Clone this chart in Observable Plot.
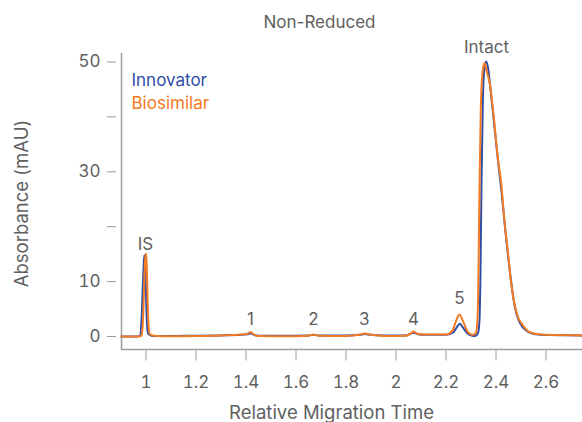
<!DOCTYPE html>
<html>
<head>
<meta charset="utf-8">
<script src="https://cdn.jsdelivr.net/npm/d3@7"></script>
<script src="https://cdn.jsdelivr.net/npm/@observablehq/plot@0.6"></script>
<style>
  html, body { margin: 0; padding: 0; background: #fff; }
  #chart { width: 582px; height: 422px; }
</style>
</head>
<body>
<div id="chart"></div>
<script>
// ---- Data ----
const innovatorX = [0.902, 0.95, 0.975, 0.982, 0.988, 0.992, 0.994, 0.997, 1.001, 1.005, 1.009, 1.015, 1.03, 1.1, 1.2, 1.3, 1.38, 1.405, 1.418, 1.43, 1.45, 1.55, 1.65, 1.67, 1.69, 1.8, 1.855, 1.875, 1.9, 1.95, 2.04, 2.06, 2.07, 2.085, 2.11, 2.2, 2.23, 2.245, 2.256, 2.268, 2.285, 2.305, 2.318, 2.328, 2.334, 2.338, 2.342, 2.347, 2.353, 2.361, 2.368, 2.377, 2.392, 2.408, 2.423, 2.438, 2.45, 2.462, 2.475, 2.49, 2.505, 2.53, 2.56, 2.6, 2.746];
const innovatorY = [0.0, 0.0, 0.1, 3, 10, 14, 14.8, 13, 6, 1.5, 0.5, 0.3, 0.1, 0.1, 0.15, 0.2, 0.3, 0.4, 0.6, 0.3, 0.15, 0.15, 0.2, 0.3, 0.2, 0.2, 0.3, 0.45, 0.3, 0.2, 0.2, 0.55, 0.7, 0.45, 0.3, 0.3, 0.8, 1.8, 2.3, 1.6, 0.6, 0.15, 0.1, 0.6, 3, 12, 28, 42, 48.5, 50.1, 49, 45.5, 39, 32, 26, 19, 14, 9.5, 5.5, 3, 1.8, 0.8, 0.4, 0.25, 0.2];

const biosimilarX = [0.902, 0.95, 0.982, 0.988, 0.993, 0.997, 1.0, 1.003, 1.007, 1.011, 1.016, 1.03, 1.1, 1.2, 1.3, 1.38, 1.405, 1.418, 1.432, 1.45, 1.55, 1.65, 1.67, 1.69, 1.8, 1.855, 1.875, 1.9, 1.95, 2.04, 2.06, 2.07, 2.085, 2.11, 2.2, 2.225, 2.24, 2.254, 2.267, 2.285, 2.3, 2.309, 2.32, 2.326, 2.33, 2.334, 2.339, 2.346, 2.354, 2.362, 2.375, 2.391, 2.406, 2.421, 2.436, 2.447, 2.46, 2.471, 2.488, 2.505, 2.53, 2.558, 2.6, 2.746];
const biosimilarY = [0.0, 0.0, 0.1, 3, 10, 14.2, 15.1, 13, 6, 1.5, 0.4, 0.15, 0.05, 0.1, 0.2, 0.35, 0.5, 0.8, 0.35, 0.1, 0.05, 0.15, 0.35, 0.15, 0.1, 0.3, 0.55, 0.3, 0.1, 0.15, 0.6, 0.9, 0.5, 0.35, 0.35, 1.0, 2.8, 4.0, 2.9, 1.0, 0.4, 0.3, 0.7, 3, 12, 27, 41, 48, 49.8, 48.5, 46, 40, 33, 27.8, 20, 15.7, 10, 6.6, 3.5, 2.2, 0.9, 0.5, 0.3, 0.2];

const seriesNames = ["Innovator", "Biosimilar"];
const seriesColors = ["#2e4ea6", "#f57a22"];

const peakLabels = ["IS", "1", "2", "3", "4", "5", "Intact"];
const peakLabelX = [0.998, 1.418, 1.67, 1.873, 2.07, 2.254, 2.362];
const peakLabelY = [16.75, 3.1, 3.1, 3.1, 3.1, 6.9, 52.6];

const xTicks = [1, 1.2, 1.4, 1.6, 1.8, 2, 2.2, 2.4, 2.6];
const xTickLabels = ["1", "1.2", "1.4", "1.6", "1.8", "2", "2.2", "2.4", "2.6"];
const yTicks = [0, 10, 20, 30, 40, 50];
const yTickLabels = ["0", "10", "", "30", "", "50"];

const xDomain = [0.902, 2.746];
const yDomain = [-2.37, 51.55];

const titleText = "Non-Reduced";
const xLabel = "Relative Migration Time";
const yLabel = "Absorbance (mAU)";

// ---- Build tables ----
const innovator = innovatorX.map((x, i) => ({x, y: innovatorY[i]}));
const biosimilar = biosimilarX.map((x, i) => ({x, y: biosimilarY[i]}));
const peaks = peakLabels.map((t, i) => ({t, x: peakLabelX[i], y: peakLabelY[i]}));
const xFmt = new Map(xTicks.map((v, i) => [v, xTickLabels[i]]));
const yFmt = new Map(yTicks.map((v, i) => [v, yTickLabels[i]]));

const textColor = "#606060";
const axisColor = "#9a9a9a";

const chart = Plot.plot({
  width: 582,
  height: 422,
  marginLeft: 121,
  marginRight: 0,
  marginTop: 53,
  marginBottom: 73,
  x: {domain: xDomain},
  y: {domain: yDomain},
  style: {fontFamily: "Inter, 'Noto Sans', sans-serif", fontSize: "17px", color: textColor, background: "#fff"},
  marks: [
    Plot.axisX({ticks: xTicks, tickFormat: d => xFmt.get(d), tickSize: 10, tickPadding: 15, dy: 1.5, stroke: axisColor, fill: textColor, label: null}),
    Plot.axisY({ticks: yTicks, tickFormat: d => yFmt.get(d), tickSize: 9, tickPadding: 7, dx: -5, stroke: axisColor, fill: textColor, label: null}),
    Plot.ruleX([xDomain[0]], {stroke: axisColor, strokeWidth: 1.5}),
    Plot.ruleY([yDomain[0]], {stroke: axisColor, strokeWidth: 1.5}),
    Plot.line(innovator, {x: "x", y: "y", stroke: seriesColors[0], strokeWidth: 2, curve: "monotone-x"}),
    Plot.line(biosimilar, {x: "x", y: "y", stroke: seriesColors[1], strokeWidth: 2, curve: "monotone-x"}),
    Plot.text(peaks, {x: "x", y: "y", text: "t", fill: textColor, lineAnchor: "middle", textAnchor: "middle"}),
    Plot.text([seriesNames[0]], {frameAnchor: "top-left", dx: 10, dy: 27, fill: seriesColors[0], textAnchor: "start", lineAnchor: "middle"}),
    Plot.text([seriesNames[1]], {frameAnchor: "top-left", dx: 10, dy: 49.7, fill: seriesColors[1], textAnchor: "start", lineAnchor: "middle"}),
    Plot.text([titleText], {frameAnchor: "top", dx: -32.5, dy: -31, fill: textColor, textAnchor: "middle", lineAnchor: "middle"}),
    Plot.text([xLabel], {frameAnchor: "bottom", dx: -20.5, dy: 64, fill: textColor, fontSize: 18.5, textAnchor: "middle", lineAnchor: "middle"}),
    Plot.text([yLabel], {frameAnchor: "left", dx: -99, dy: 2, rotate: -90, fill: textColor, fontSize: 18.5, textAnchor: "middle", lineAnchor: "middle"})
  ]
});
document.getElementById("chart").appendChild(chart);
</script>
</body>
</html>
